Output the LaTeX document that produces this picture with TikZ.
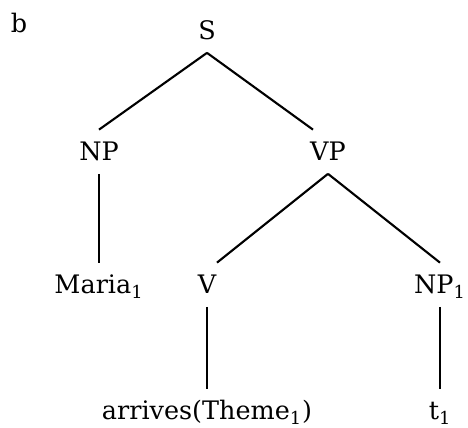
\documentclass[tikz,border=0pt]{standalone}
\usepackage{fontspec}
\setmainfont{DejaVu Serif}
\usepackage{tikz}
\tikzstyle{cat} = [font=\fontsize{14.5}{17}\selectfont, anchor=base,
    inner xsep=2pt, inner ysep=0.25cm, text height=0.37cm, text depth=0pt]
\tikzstyle{branch} = [draw, line width=1.2pt]

\begin{document}
\begin{tikzpicture}[x=0.02cm,y=-0.02cm]
    \useasboundingbox (0,0) rectangle (468,428);
    % Place nodes
    \node [cat] (tag) at (19,33) {b};
    \node [cat] (s) at (207,40) {S};
    \node [cat] (np) at (99,161) {NP};
    \node [cat] (vp) at (328,161) {VP};
    \node [cat] (maria) at (99,294) {Maria\textsubscript{1}};
    \node [cat] (v) at (207,294) {V};
    \node [cat] (np1) at (440,294) {NP\textsubscript{1}};
    \node [cat] (arrives) at (207,420) {arrives(Theme\textsubscript{1})};
    \node [cat] (trace) at (440,420) {t\textsubscript{1}};
    % Draw edges
    \path [branch] (s.south) -- (np.north);
    \path [branch] (s.south) -- ([xshift=-0.3cm]vp.north);
    \path [branch] (np.south) -- (maria.north);
    \path [branch] (vp.south) -- ([xshift=0.2cm]v.north);
    \path [branch] (vp.south) -- (np1.north);
    \path [branch] (v.south) -- (arrives.north);
    \path [branch] (np1.south) -- (trace.north);
\end{tikzpicture}
\end{document}
